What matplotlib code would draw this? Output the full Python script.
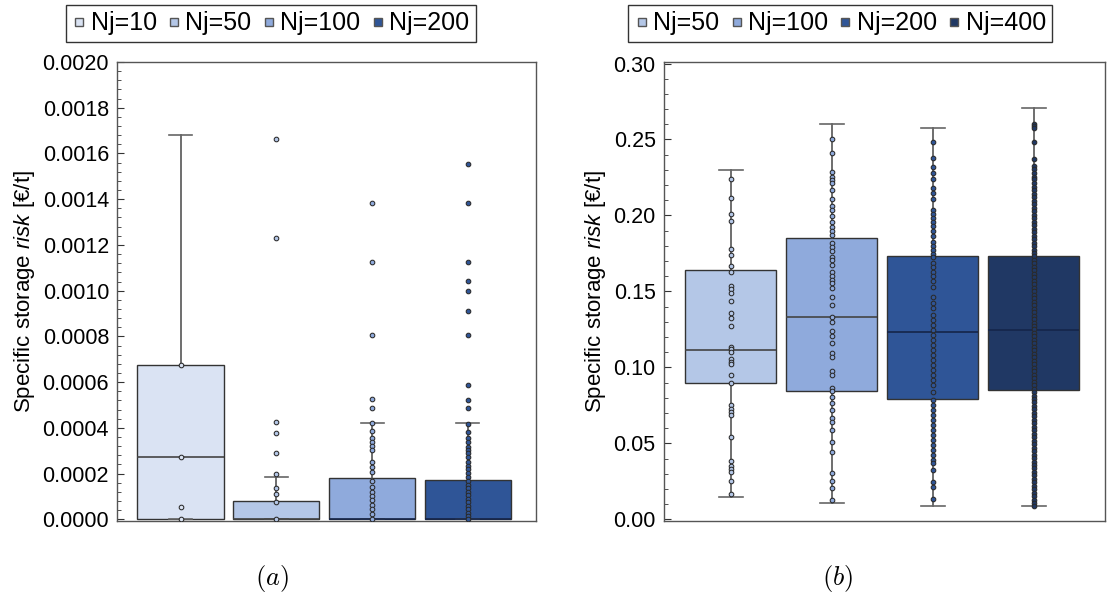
import matplotlib.pyplot as plt
from matplotlib.lines import Line2D
from matplotlib.ticker import MultipleLocator, FormatStrFormatter

plt.rcParams['font.family'] = ['Liberation Sans', 'DejaVu Sans']
plt.rcParams['mathtext.fontset'] = 'custom'
plt.rcParams['mathtext.rm'] = 'Liberation Sans'
plt.rcParams['mathtext.it'] = 'Liberation Sans:italic'

# ---- panel (a): small batches ----
labels_a = ['Nj=10', 'Nj=50', 'Nj=100', 'Nj=200']
colors_a = ['#dae3f3', '#b4c7e7', '#8faadc', '#2f5597']
q1_a = [0.0, 0.0, 0.0, 0.0]
med_a = [0.000274, 0.0, 0.0, 0.0]
q3_a = [0.000673, 0.0000816, 0.000182, 0.000172]
wlo_a = [0.0, 0.0, 0.0, 0.0]
whi_a = [0.001682, 0.000187, 0.000421, 0.000421]
pts_a = [
    [0.000673, 0.000274, 0.0000554, 0.0],
    [0.001665, 0.001229, 0.000426, 0.000379, 0.000292, 0.000198,
     0.000136, 0.000111, 0.0000758, 0.0],
    [0.001383, 0.001124, 0.000808, 0.000526, 0.000488, 0.00042, 0.000388,
     0.000354, 0.00034, 0.000321, 0.000303, 0.000249, 0.000227, 0.000207,
     0.000169, 0.00014, 0.000121, 0.000104, 0.0000845, 0.0000627,
     0.0000437, 0.0000233, 0.0],
    [0.001555, 0.001383, 0.001124, 0.001044, 0.000997, 0.000913, 0.000808,
     0.000589, 0.000522, 0.000488, 0.000417, 0.000383, 0.000354, 0.000337,
     0.000318, 0.000303, 0.000289, 0.000271, 0.000252, 0.000235, 0.000219,
     0.000201, 0.000184, 0.000166, 0.00015, 0.000136, 0.000121, 0.000106,
     0.0000901, 0.0000744, 0.0000582, 0.0000438, 0.0000289, 0.0000144, 0.0],
]

# ---- panel (b): larger batches ----
labels_b = ['Nj=50', 'Nj=100', 'Nj=200', 'Nj=400']
colors_b = ['#b4c7e7', '#8faadc', '#2f5597', '#203864']
q1_b = [0.0895, 0.0842, 0.0792, 0.0853]
med_b = [0.1112, 0.1329, 0.1235, 0.1248]
q3_b = [0.1638, 0.1853, 0.1732, 0.1732]
wlo_b = [0.0147, 0.0110, 0.0086, 0.0086]
whi_b = [0.2296, 0.2601, 0.2575, 0.2706]
pts_b = [
    [0.2239, 0.2112, 0.2007, 0.1961, 0.1776, 0.1739, 0.1669, 0.1625, 0.1537,
     0.1518, 0.1487, 0.1436, 0.1360, 0.1322, 0.1272, 0.1134, 0.1118, 0.1099,
     0.1057, 0.1037, 0.1022, 0.0950, 0.0895, 0.0750, 0.0724, 0.0704, 0.0684,
     0.0544, 0.0386, 0.0351, 0.0333, 0.0314, 0.0254, 0.0164],
    [0.2500, 0.2410, 0.2283, 0.2250, 0.2232, 0.2215, 0.2165, 0.2107, 0.2064,
     0.2035, 0.1996, 0.1954, 0.1925, 0.1899, 0.1873, 0.1822, 0.1790, 0.1763,
     0.1728, 0.1704, 0.1675, 0.1627, 0.1601, 0.1577, 0.1553, 0.1524, 0.1461,
     0.1410, 0.1331, 0.1298, 0.1241, 0.1206, 0.1160, 0.1097, 0.1070, 0.0976,
     0.0947, 0.0862, 0.0842, 0.0807, 0.0768, 0.0719, 0.0664, 0.0643, 0.0586,
     0.0511, 0.0441, 0.0303, 0.0250, 0.0204, 0.0127],
    [0.2484, 0.2379, 0.2322, 0.2280, 0.2243, 0.2178, 0.2145, 0.2107, 0.2035,
     0.2007, 0.1984, 0.1958, 0.1930, 0.1899, 0.1864, 0.1826, 0.1800, 0.1772,
     0.1745, 0.1724, 0.1684, 0.1662, 0.1629, 0.1601, 0.1568, 0.1530, 0.1464,
     0.1421, 0.1388, 0.1344, 0.1311, 0.1278, 0.1245, 0.1213, 0.1180, 0.1147,
     0.1114, 0.1081, 0.1048, 0.1015, 0.0982, 0.0949, 0.0916, 0.0884, 0.0839,
     0.0785, 0.0752, 0.0719, 0.0686, 0.0653, 0.0620, 0.0588, 0.0555, 0.0522,
     0.0489, 0.0456, 0.0423, 0.0390, 0.0368, 0.0324, 0.0247, 0.0214, 0.0132],
    [0.2605, 0.2588, 0.2573, 0.2484, 0.2370, 0.2325, 0.2305, 0.2282, 0.2255,
     0.2238, 0.2215, 0.2190, 0.2165, 0.2143, 0.2120, 0.2098, 0.2075, 0.2050,
     0.2028, 0.2005, 0.1980, 0.1958, 0.1935, 0.1912, 0.1890, 0.1866, 0.1843,
     0.1820, 0.1798, 0.1775, 0.1752, 0.1730, 0.1706, 0.1684, 0.1660, 0.1638,
     0.1615, 0.1592, 0.1570, 0.1546, 0.1524, 0.1500, 0.1478, 0.1455, 0.1432,
     0.1410, 0.1386, 0.1364, 0.1340, 0.1318, 0.1295, 0.1272, 0.1250, 0.1226,
     0.1204, 0.1180, 0.1158, 0.1135, 0.1112, 0.1090, 0.1066, 0.1044, 0.1020,
     0.0998, 0.0975, 0.0952, 0.0930, 0.0906, 0.0884, 0.0860, 0.0838, 0.0815,
     0.0792, 0.0770, 0.0746, 0.0724, 0.0700, 0.0678, 0.0655, 0.0632, 0.0610,
     0.0586, 0.0564, 0.0540, 0.0518, 0.0495, 0.0472, 0.0450, 0.0426, 0.0404,
     0.0380, 0.0358, 0.0335, 0.0312, 0.0290, 0.0266, 0.0244, 0.0220, 0.0198,
     0.0175, 0.0152, 0.0130, 0.0108, 0.0090],
]


def draw_panel(ax, colors, q1, med, q3, wlo, whi, pts):
    pos = [1, 2, 3, 4]
    stats = []
    for i in range(4):
        stats.append(dict(q1=q1[i], med=med[i], q3=q3[i],
                          whislo=wlo[i], whishi=whi[i], fliers=[]))
    bp = ax.bxp(stats, positions=pos, widths=0.9, patch_artist=True,
                showfliers=False, capwidths=0.24,
                whiskerprops=dict(color='#555555', lw=1.2),
                capprops=dict(color='#666666', lw=1.2),
                medianprops=dict(lw=1.2))
    for i, box in enumerate(bp['boxes']):
        box.set_facecolor(colors[i])
        box.set_edgecolor('#333333')
        box.set_linewidth(1.0)
        box.set_zorder(2)
        bp['medians'][i].set_color('#15254a' if i >= 2 else '#444444')
        bp['medians'][i].set_zorder(2.5)
    for i in range(4):
        ax.scatter([pos[i]] * len(pts[i]), pts[i], s=11, c=colors[i],
                   edgecolors='#2a2a2a', linewidths=0.75, zorder=3)
    ax.set_xlim(0.34, 4.71)
    ax.set_xticks([])
    ax.tick_params(axis='y', which='both', direction='in', colors='#333333',
                   labelcolor='black', labelsize=15.5, pad=6)
    ax.tick_params(axis='y', which='major', length=5)
    ax.tick_params(axis='y', which='minor', length=3)
    for sp in ax.spines.values():
        sp.set_color('#555555')
        sp.set_linewidth(1.0)
    ax.set_ylabel('Specific storage $risk$ [€/t]', fontsize=16, labelpad=4)


fig = plt.figure(figsize=(11.07, 5.99), dpi=100)
ax1 = fig.add_axes([0.106, 0.1307, 0.378, 0.7658])
ax2 = fig.add_axes([0.5998, 0.1307, 0.3988, 0.7658])

draw_panel(ax1, colors_a, q1_a, med_a, q3_a, wlo_a, whi_a, pts_a)
ax1.set_ylim(-0.000006, 0.002)
ax1.yaxis.set_major_locator(MultipleLocator(0.0002))
ax1.yaxis.set_minor_locator(MultipleLocator(0.00004))
ax1.yaxis.set_major_formatter(FormatStrFormatter('%.4f'))

draw_panel(ax2, colors_b, q1_b, med_b, q3_b, wlo_b, whi_b, pts_b)
ax2.set_ylim(-0.0009, 0.301)
ax2.yaxis.set_major_locator(MultipleLocator(0.05))
ax2.yaxis.set_minor_locator(MultipleLocator(0.01))
ax2.yaxis.set_major_formatter(FormatStrFormatter('%.2f'))

# legends above each panel
for labels, colors, cx in [(labels_a, colors_a, 0.2444), (labels_b, colors_b, 0.7588)]:
    handles = [Line2D([], [], marker='s', ls='', markersize=6,
                      markerfacecolor=c, markeredgecolor='#555555',
                      markeredgewidth=1.0) for c in colors]
    leg = fig.legend(handles, labels, loc='center', bbox_to_anchor=(cx, 0.9608),
                     ncol=4, fontsize=18, handlelength=0.6, handletextpad=0.15,
                     columnspacing=0.4, borderpad=0.25, fancybox=False,
                     framealpha=1, edgecolor='#333333')
    leg.get_frame().set_linewidth(1.0)

# panel captions
fig.text(0.2457, 0.035, '$(a)$', ha='center', va='center', fontsize=19,
         math_fontfamily='cm')
fig.text(0.757, 0.035, '$(b)$', ha='center', va='center', fontsize=19,
         math_fontfamily='cm')

fig.savefig('out.png', dpi=100)
